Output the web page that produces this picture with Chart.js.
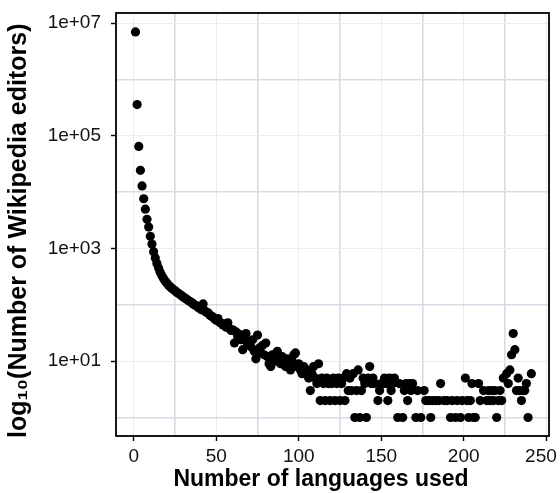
<!DOCTYPE html>
<html>
<head>
<meta charset="utf-8">
<script src="https://cdn.jsdelivr.net/npm/chart.js@4"></script>
<style>
  body { margin: 0; background: #fff; }
</style>
</head>
<body>
<canvas id="graficoIdiomas" width="560" height="493"></canvas>
<script>
// numero de idiomas usados (eixo x) e numero de editores (eixo y)
const idiomas = [
  1, 2, 3, 4, 5, 6, 7, 8, 9, 10, 11, 12, 13, 14, 15, 16, 17, 18, 19, 20,
  21, 22, 23, 24, 25, 26, 27, 28, 29, 30, 31, 32, 33, 34, 35, 36, 37, 38, 39, 40,
  41, 42, 43, 44, 45, 46, 47, 48, 49, 50, 51, 52, 53, 54, 55, 56, 57, 58, 59, 60,
  61, 62, 63, 64, 65, 66, 67, 68, 69, 70, 71, 72, 73, 74, 75, 76, 77, 78, 79, 80,
  81, 82, 83, 84, 85, 86, 87, 88, 89, 90, 91, 92, 93, 94, 95, 96, 97, 98, 99, 100,
  101, 102, 103, 104, 105, 106, 107, 108, 109, 110, 111, 112, 113, 114, 115, 116, 117, 118, 119, 120,
  121, 122, 123, 124, 125, 126, 127, 128, 129, 130, 131, 132, 133, 134, 135, 136, 137, 138, 139, 140,
  141, 142, 143, 144, 145, 146, 148, 149, 150, 151, 152, 153, 154, 155, 156, 157, 158, 160,
  161, 163, 164, 165, 166, 167, 168, 169, 171, 172, 174, 176, 177, 179, 180,
  181, 183, 185, 186, 188, 190, 192, 193, 195, 196, 198, 199, 201, 202, 203, 204, 205, 206, 207, 209, 210,
  212, 214, 215, 216, 217, 218, 219, 220, 221, 222, 223, 224, 226, 227, 228, 229, 230,
  231, 232, 233, 234, 235, 236, 237, 238, 239, 241
];
const editores = [
  7000000, 360000, 65000, 24500, 12900, 7650, 5000, 3300, 2400, 1650, 1200, 880, 680, 540, 450, 380, 330, 295, 265, 245,
  225, 210, 198, 188, 178, 168, 160, 152, 145, 138, 132, 126, 120, 115, 110, 104, 99, 96, 90, 86,
  82, 104, 78, 74, 72, 66, 63, 61, 56, 53, 57, 49, 47, 44, 46, 40, 48, 38, 35, 36,
  21, 33, 27, 30, 24, 16, 26, 31, 20, 22, 18, 24, 15, 11, 29, 17, 14, 19, 13, 21,
  12, 9, 8, 13, 12, 10, 15, 11, 9, 12, 10, 8, 11, 9, 7, 10, 13, 14, 8, 9,
  7, 6, 8, 6, 7, 5, 3, 6, 8, 5, 4, 9, 2, 5, 4, 2, 5, 4, 2, 4,
  5, 2, 4, 5, 2, 4, 5, 2, 6, 3, 5, 3, 6, 1, 3, 7, 1, 3, 5, 4,
  1, 5, 8, 4, 5, 4, 2, 3, 4, 4, 5, 4, 2, 5, 3, 4, 5, 1,
  4, 1, 3, 4, 2, 4, 3, 4, 1, 3, 1, 3, 2, 2, 1,
  2, 2, 2, 4, 2, 2, 1, 2, 1, 2, 1, 2, 5, 2, 1, 2, 4, 1, 1, 4, 2,
  3, 2, 3, 2, 3, 2, 3, 1, 2, 3, 2, 5, 6, 4, 7, 13, 31,
  16, 3, 5, 3, 2, 3, 3, 4, 1, 6
];

const xTicks = [0, 25, 50, 75, 100, 125, 150, 175, 200, 225, 250];
// espacos no fim do "250" puxam o rotulo um pouco para dentro, como no original
const xTickLabels = ["0", "", "50", "", "100", "", "150", "", "200", "", "250  "];
const yTicks = [1, 10, 100, 1000, 10000, 100000, 1000000, 10000000];
const yTickLabels = ["", "1e+01", "", "1e+03", "", "1e+05", "", "1e+07"];

const corGradeMaior = "#ebedf1";
const corGradeMenor = "#d6dce4";

function rotuloX(v) {
  const i = xTicks.indexOf(v);
  return i >= 0 ? xTickLabels[i] : "";
}
function rotuloY(v) {
  const i = yTicks.findIndex((t) => Math.abs(t - v) < t * 1e-6);
  return i >= 0 ? yTickLabels[i] : "";
}

const bordaPainel = {
  id: "bordaPainel",
  afterDatasetsDraw(chart) {
    const { ctx, chartArea } = chart;
    ctx.save();
    ctx.strokeStyle = "#000";
    ctx.lineWidth = 1.8;
    ctx.strokeRect(chartArea.left, chartArea.top, chartArea.right - chartArea.left, chartArea.bottom - chartArea.top);
    ctx.restore();
  },
};

const fonteTick = { family: "'Liberation Sans', Arial, sans-serif", size: 19 };
const fonteTituloX = { family: "'Liberation Sans', Arial, sans-serif", size: 23, weight: "bold" };
const fonteTituloY = { family: "'Liberation Sans', Arial, sans-serif", size: 25, weight: "bold" };

const config = {
  type: "scatter",
  data: {
    datasets: [
      {
        label: "editores",
        data: idiomas.map((x, i) => ({ x: x, y: editores[i] })),
        backgroundColor: "#000",
        borderWidth: 0,
        pointRadius: 4.6,
      },
    ],
  },
  options: {
    animation: false,
    responsive: false,
    layout: { padding: { top: 13, right: 11, left: 0, bottom: 0 } },
    plugins: {
      legend: { display: false },
      tooltip: { enabled: false },
    },
    scales: {
      x: {
        type: "linear",
        min: -10.8,
        max: 251.7,
        afterBuildTicks: (s) => { s.ticks = xTicks.map((v) => ({ value: v })); },
        afterFit: (s) => {
          s.height = 57;
          s.paddingLeft = 0;
          s.paddingRight = 0;
        },
        border: { display: false },
        grid: {
          color: (c) => (rotuloX(c.tick.value) ? corGradeMaior : corGradeMenor),
          lineWidth: (c) => (rotuloX(c.tick.value) ? 1 : 1.6),
          tickColor: (c) => (rotuloX(c.tick.value) ? "#000" : "rgba(0,0,0,0)"),
          tickLength: 5,
          tickWidth: 1.4,
        },
        ticks: {
          autoSkip: false,
          maxRotation: 0,
          padding: 4,
          color: "#111",
          font: fonteTick,
          callback: (v) => rotuloX(v),
        },
        title: {
          display: true,
          text: "Number of languages used\u2002\u2002",
          color: "#000",
          font: fonteTituloX,
          padding: { top: 0, bottom: 0 },
        },
      },
      y: {
        type: "logarithmic",
        min: 0.469,
        max: 15200000,
        afterBuildTicks: (s) => { s.ticks = yTicks.map((v) => ({ value: v })); },
        afterFit: (s) => {
          s.width = 116;
          s.paddingTop = 0;
          s.paddingBottom = 0;
        },
        border: { display: false },
        grid: {
          color: (c) => (rotuloY(c.tick.value) ? corGradeMaior : corGradeMenor),
          lineWidth: (c) => (rotuloY(c.tick.value) ? 1 : 1.6),
          tickColor: (c) => (rotuloY(c.tick.value) ? "#000" : "rgba(0,0,0,0)"),
          tickLength: 5,
          tickWidth: 1.4,
        },
        ticks: {
          autoSkip: false,
          padding: 10,
          color: "#111",
          font: fonteTick,
          callback: (v) => rotuloY(v),
        },
        title: {
          display: true,
          text: "log₁₀(Number of Wikipedia editors)\u2002",
          color: "#000",
          font: fonteTituloY,
          padding: { top: 4, bottom: 0 },
        },
      },
    },
  },
  plugins: [bordaPainel],
};

const graficoIdiomas = new Chart(document.getElementById("graficoIdiomas"), config);
</script>
</body>
</html>
